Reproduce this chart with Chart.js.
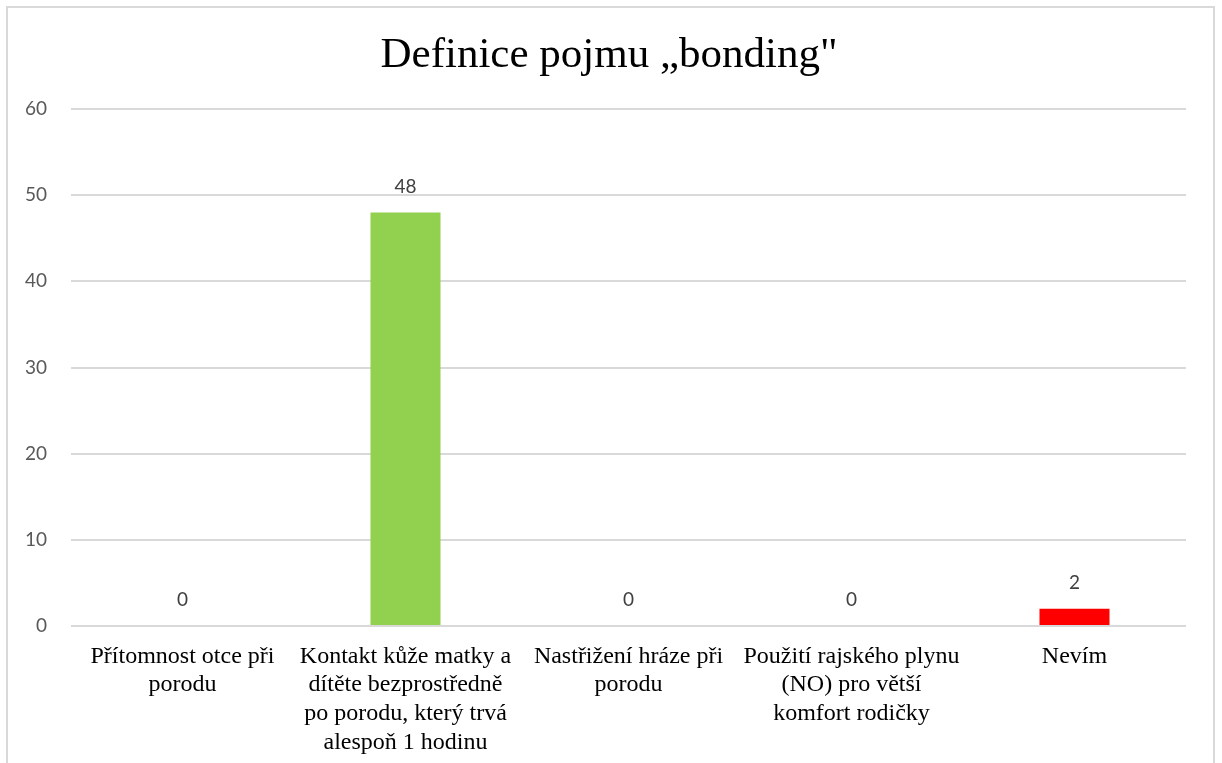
<!DOCTYPE html>
<html lang="cs">
<head>
<meta charset="utf-8">
<title>Definice pojmu „bonding"</title>
<script src="https://cdn.jsdelivr.net/npm/chart.js@4.4.1/dist/chart.umd.min.js"></script>
<style>
  html, body { margin: 0; padding: 0; background: #ffffff; }
  #wrap { position: relative; width: 1222px; height: 763px; overflow: hidden; }
  canvas { display: block; }
</style>
</head>
<body>
<div id="wrap"><canvas id="chart" width="1222" height="763"></canvas></div>
<script>
// Survey answers: what does "bonding" mean
const chartTitle = 'Definice pojmu „bonding"';
const categories = [
  ['Přítomnost otce při', 'porodu'],
  ['Kontakt kůže matky a', 'dítěte bezprostředně', 'po porodu, který trvá', 'alespoň 1 hodinu'],
  ['Nastřižení hráze při', 'porodu'],
  ['Použití rajského plynu', '(NO) pro větší', 'komfort rodičky'],
  ['Nevím']
];
const answerCounts = [0, 48, 0, 0, 2];
const barColors = ['#92d050', '#92d050', '#92d050', '#92d050', '#ff0000'];
const yTicks = [0, 10, 20, 30, 40, 50, 60];

const SERIF = '"Liberation Serif", "Times New Roman", serif';
const SANS = 'Lato, "Open Sans", "Liberation Sans", sans-serif';

// Frame, title and value labels
const decorations = {
  id: 'decorations',
  beforeDraw(chart) {
    const ctx = chart.ctx;
    ctx.save();
    ctx.fillStyle = '#ffffff';
    ctx.fillRect(0, 0, chart.width, chart.height);
    ctx.strokeStyle = '#d9d9d9';
    ctx.lineWidth = 2;
    ctx.strokeRect(7, 7, 1207, 800);
    ctx.restore();
  },
  afterDatasetsDraw(chart) {
    const ctx = chart.ctx;
    ctx.save();
    ctx.fillStyle = '#000000';
    ctx.font = '43px ' + SERIF;
    ctx.textAlign = 'center';
    ctx.textBaseline = 'alphabetic';
    ctx.fillText(chartTitle, 609, 67);

    const meta = chart.getDatasetMeta(0);
    ctx.fillStyle = '#404040';
    ctx.font = '19px ' + SANS;
    ctx.textBaseline = 'middle';
    meta.data.forEach((bar, i) => {
      ctx.fillText(String(answerCounts[i]), bar.x, bar.y - 26);
    });
    ctx.restore();
  }
};

new Chart(document.getElementById('chart'), {
  type: 'bar',
  data: {
    labels: categories,
    datasets: [{
      data: answerCounts,
      backgroundColor: barColors,
      borderWidth: 0,
      categoryPercentage: 1,
      barPercentage: 0.314
    }]
  },
  options: {
    responsive: false,
    animation: false,
    layout: { padding: { top: 109, right: 36, bottom: 0, left: 0 } },
    plugins: {
      legend: { display: false },
      title: { display: false },
      tooltip: { enabled: false }
    },
    scales: {
      x: {
        grid: { display: false, drawTicks: false },
        border: { display: false },
        ticks: {
          color: '#000000',
          font: { family: SERIF, size: 24, lineHeight: 1.2 },
          padding: 16,
          maxRotation: 0,
          autoSkip: false
        },
        afterFit(scale) { scale.height = 137; }
      },
      y: {
        min: 0,
        max: 60,
        afterBuildTicks(scale) { scale.ticks = yTicks.map(v => ({ value: v })); },
        grid: { color: '#d9d9d9', lineWidth: 2, drawTicks: false },
        border: { display: false },
        ticks: {
          color: '#595959',
          font: { family: SANS, size: 19 },
          padding: 24
        },
        afterFit(scale) { scale.width = 71; }
      }
    }
  },
  plugins: [decorations]
});
</script>
</body>
</html>
